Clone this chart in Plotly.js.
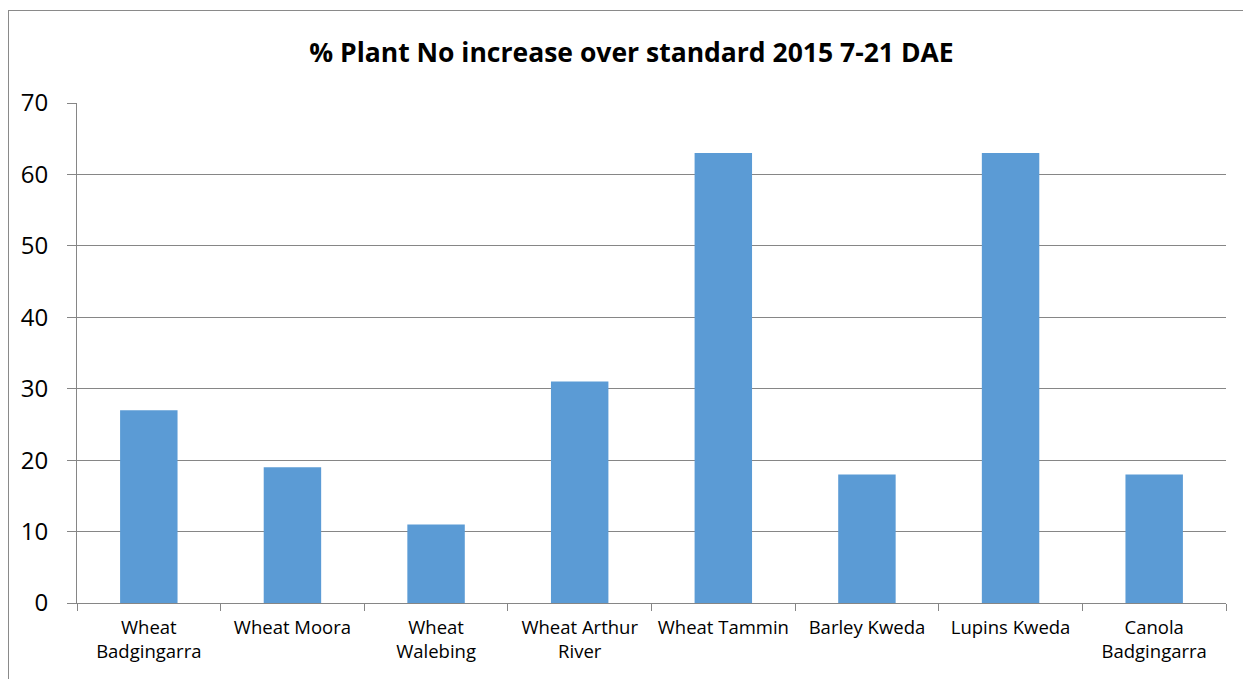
<!DOCTYPE html>
<html><head><meta charset="utf-8">
<script src="https://cdn.plot.ly/plotly-3.0.1.min.js"></script>
<style>
body{margin:0;background:#fff;}
#frame{position:absolute;left:8px;top:10px;width:1300px;height:700px;border-left:1px solid #8a8a8a;border-top:1px solid #8a8a8a;}
#chart{position:absolute;left:0;top:0;width:1243px;height:679px;}
</style></head>
<body>
<div id="frame"></div>
<div id="chart"></div>
<script>
const categories = ["Wheat<br>Badgingarra","Wheat Moora","Wheat<br>Walebing","Wheat Arthur<br>River","Wheat Tammin","Barley Kweda","Lupins Kweda","Canola<br>Badgingarra"];
const values = [27, 19, 11, 31, 63, 18, 63, 18];
const yTicks = [0,10,20,30,40,50,60,70];

const font = '"Open Sans", "Noto Sans", sans-serif';
Plotly.newPlot('chart', [{
  type: 'bar', x: categories, y: values,
  marker: {color: '#5B9BD5'}, hoverinfo: 'x+y'
}], {
  width: 1243, height: 679,
  margin: {l: 77, r: 17, t: 103, b: 76, pad: 0},
  paper_bgcolor: 'rgba(0,0,0,0)', plot_bgcolor: 'rgba(0,0,0,0)',
  bargap: 0.6,
  title: {text: '<b>% Plant No increase over standard 2015 7-21 DAE</b>', font: {family: font, size: 26.5, color: '#000'},
          x: 0.508, xref: 'container', y: 0.922, yref: 'container', yanchor: 'middle'},
  xaxis: {type: 'category', tickson: 'boundaries', ticks: 'outside', ticklen: 7, tickcolor: '#868686',
          showline: true, linecolor: '#868686', linewidth: 1, showgrid: false, ticklabelstandoff: 8,
          tickfont: {family: font, size: 18.5, color: '#000'}, tickangle: 0},
  yaxis: {range: [0, 70], tickvals: yTicks, ticks: 'outside', ticklen: 9, tickcolor: '#868686',
          showline: true, linecolor: '#868686', showgrid: true, gridcolor: '#868686', gridwidth: 1,
          zeroline: false, ticklabelstandoff: 14,
          tickfont: {family: font, size: 24, color: '#000'}},
  showlegend: false
}, {displayModeBar: false});
</script>
</body></html>
